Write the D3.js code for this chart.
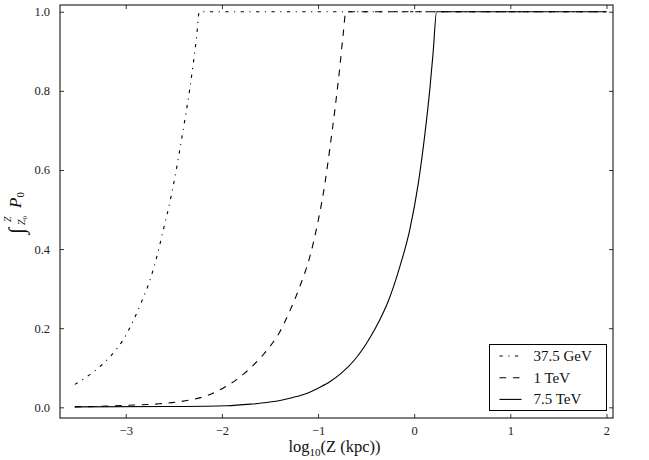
<!DOCTYPE html>
<html lang="en">
<head>
    <meta charset="utf-8">
    <title>Cumulative P0</title>
    <script src="https://d3js.org/d3.v7.min.js"></script>
    <style>
        body { margin: 0; background: #fff; }
    </style>
</head>
<body>
    <div id="chart"></div>
    <script>
        // Data: log10(Z) and cumulative integral of P0
        const xGeV = [-3.53, -3.43, -3.34, -3.25, -3.166, -3.09, -3.028, -2.924, -2.837, -2.75, -2.68, -2.61, -2.54, -2.49, -2.44, -2.386, -2.334, -2.30, -2.264, -2.235, 2.0];
        const yGeV = [0.058, 0.073, 0.089, 0.107, 0.127, 0.149, 0.170, 0.218, 0.266, 0.320, 0.378, 0.448, 0.520, 0.580, 0.648, 0.726, 0.805, 0.865, 0.935, 1.0, 1.0];

        const x1TeV = [-3.53, -3.34, -3.0, -2.646, -2.45, -2.30, -2.15, -2.056, -1.95, -1.848, -1.76, -1.675, -1.536, -1.40, -1.30, -1.19, -1.085, -1.0, -0.929, -0.877, -0.825, -0.773, -0.739, -0.71, 2.0];
        const y1TeV = [0.001, 0.002, 0.005, 0.009, 0.014, 0.020, 0.030, 0.040, 0.054, 0.070, 0.087, 0.106, 0.143, 0.190, 0.240, 0.305, 0.381, 0.470, 0.565, 0.655, 0.752, 0.861, 0.942, 1.0, 1.0];

        const x75TeV = [-3.53, -2.58, -1.95, -1.7, -1.535, -1.36, -1.26, -1.12, -0.98, -0.87, -0.77, -0.68, -0.60, -0.46, -0.36, -0.27, -0.15, -0.045, 0.042, 0.111, 0.163, 0.198, 0.233, 2.0];
        const y75TeV = [0.001, 0.002, 0.004, 0.008, 0.012, 0.019, 0.025, 0.035, 0.051, 0.066, 0.084, 0.104, 0.126, 0.176, 0.220, 0.268, 0.355, 0.450, 0.565, 0.690, 0.805, 0.900, 1.0, 1.0];

        const seriesNames = ["37.5 GeV", "1 TeV", "7.5 TeV"];
        const xTicks = [-3, -2, -1, 0, 1, 2];
        const yTicks = [0.0, 0.2, 0.4, 0.6, 0.8, 1.0];

        const series = [
            { name: seriesNames[0], x: xGeV, y: yGeV, dash: "3.3 5.5 1.1 5.5" },
            { name: seriesNames[1], x: x1TeV, y: y1TeV, dash: "6.7 6.7" },
            { name: seriesNames[2], x: x75TeV, y: y75TeV, dash: null }
        ];

        const serif = "'Liberation Serif', 'DejaVu Serif', serif";

        // Chart dimensions
        const width = 649, height = 460;
        const margin = { top: 5, right: 36, bottom: 42, left: 60 };
        const innerW = width - margin.left - margin.right;
        const innerH = height - margin.top - margin.bottom;

        const svg = d3.select("#chart")
            .append("svg")
            .attr("width", width)
            .attr("height", height)
            .attr("font-family", serif);

        const g = svg.append("g")
            .attr("transform", `translate(${margin.left},${margin.top})`);

        // Scales
        const x = d3.scaleLinear().domain([-3.684, 2.068]).range([0, innerW]);
        const y = d3.scaleLinear().domain([-0.027, 1.017]).range([innerH, 0]);

        // Lines
        const line = d3.line()
            .x(d => x(d[0]))
            .y(d => y(d[1]))
            .curve(d3.curveMonotoneX);

        g.selectAll("path.series")
            .data(series)
            .enter()
            .append("path")
            .attr("class", "series")
            .attr("d", d => line(d.x.map((v, i) => [v, d.y[i]])))
            .attr("fill", "none")
            .attr("stroke", "black")
            .attr("stroke-width", 1.1)
            .attr("stroke-dasharray", d => d.dash);

        // Axes (ticks inward on all four sides)
        const fmtX = d => (d < 0 ? "\u2212" + Math.abs(d) : d);
        const fmtY = d3.format(".1f");

        const bottomAxis = g.append("g")
            .attr("transform", `translate(0,${innerH})`)
            .call(d3.axisBottom(x).tickValues(xTicks).tickFormat(fmtX).tickSizeInner(-4).tickSizeOuter(0).tickPadding(8));
        const topAxis = g.append("g")
            .call(d3.axisTop(x).tickValues(xTicks).tickFormat("").tickSizeInner(-4).tickSizeOuter(0));
        const leftAxis = g.append("g")
            .call(d3.axisLeft(y).tickValues(yTicks).tickFormat(fmtY).tickSizeInner(-4).tickSizeOuter(0).tickPadding(10));
        const rightAxis = g.append("g")
            .attr("transform", `translate(${innerW},0)`)
            .call(d3.axisRight(y).tickValues(yTicks).tickFormat("").tickSizeInner(-4).tickSizeOuter(0));

        [bottomAxis, topAxis, leftAxis, rightAxis].forEach(a => {
            a.attr("font-family", serif).attr("font-size", 12.5);
            a.select(".domain").remove();
            a.selectAll(".tick line").attr("stroke", "#000").attr("stroke-width", 0.8);
            a.selectAll(".tick text").attr("fill", "#222");
        });

        // Frame
        g.append("rect")
            .attr("x", 0)
            .attr("y", 0)
            .attr("width", innerW)
            .attr("height", innerH)
            .attr("fill", "none")
            .attr("stroke", "black")
            .attr("stroke-width", 1);

        // X label
        const xLabel = svg.append("text")
            .attr("x", margin.left + innerW / 2 - 2)
            .attr("y", 452)
            .attr("text-anchor", "middle")
            .attr("font-size", 16.5)
            .attr("fill", "#111");
        xLabel.append("tspan").text("log");
        xLabel.append("tspan").attr("dy", 4).attr("font-size", 11).text("10");
        xLabel.append("tspan").attr("dy", -4).text("(Z (kpc))");

        // Y label: integral from Z0 to Z of P0
        const yLabel = svg.append("g")
            .attr("transform", "translate(21,207) rotate(-90)")
            .attr("fill", "#111");
        yLabel.append("text")
            .attr("x", -27)
            .attr("y", 3)
            .attr("font-size", 22)
            .attr("font-style", "italic")
            .text("\u222B");
        yLabel.append("text")
            .attr("x", -15)
            .attr("y", -10)
            .attr("font-size", 10)
            .attr("font-style", "italic")
            .text("Z");
        const lower = yLabel.append("text")
            .attr("x", -18)
            .attr("y", 4)
            .attr("font-size", 10)
            .attr("font-style", "italic");
        lower.append("tspan").text("Z");
        lower.append("tspan").attr("dy", 2).attr("font-size", 7).attr("font-style", "normal").text("0");
        const pLab = yLabel.append("text")
            .attr("x", -1)
            .attr("y", 0)
            .attr("font-size", 17)
            .attr("font-style", "italic");
        pLab.append("tspan").text("P");
        pLab.append("tspan").attr("dy", 3).attr("font-size", 11).attr("font-style", "normal").text("0");

        // Legend
        const legend = svg.append("g")
            .attr("transform", "translate(489.5,344.5)");
        legend.append("rect")
            .attr("width", 117)
            .attr("height", 66)
            .attr("fill", "white")
            .attr("stroke", "black")
            .attr("stroke-width", 1);

        const rows = legend.selectAll("g.row")
            .data(series)
            .enter()
            .append("g")
            .attr("class", "row")
            .attr("transform", (d, i) => `translate(0,${11.5 + i * 21.7})`);
        rows.append("line")
            .attr("x1", 10)
            .attr("x2", 32)
            .attr("y1", 0)
            .attr("y2", 0)
            .attr("stroke", "black")
            .attr("stroke-width", 1.1)
            .attr("stroke-dasharray", d => d.dash);
        rows.append("text")
            .attr("x", 44)
            .attr("y", 5)
            .attr("font-size", 15)
            .attr("fill", "#111")
            .text(d => d.name);
    </script>
</body>
</html>
